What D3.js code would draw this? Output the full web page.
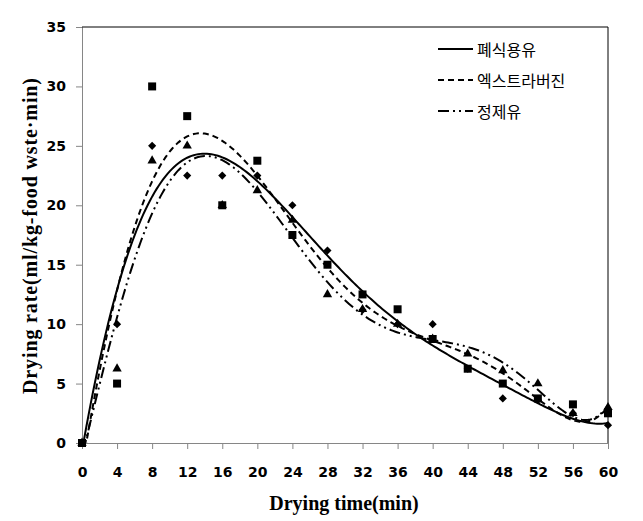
<!DOCTYPE html>
<html>
<head>
<meta charset="utf-8">
<script src="https://cdn.jsdelivr.net/npm/d3@7"></script>
<style>
  body { margin: 0; background: #fff; }
  .tick text { font-family: "DejaVu Sans", sans-serif; font-weight: bold; font-size: 14px; fill: #000; }
  .axis-title { font-family: "Liberation Serif", "Times New Roman", serif; font-weight: bold; font-size: 20px; fill: #000; }
  .legend text { font-family: "Noto Sans CJK KR", sans-serif; font-size: 16px; fill: #000; }
</style>
</head>
<body>
<svg id="chart" width="643" height="521"></svg>
<script>
"use strict";

// drying time (min)
var times = [0, 4, 8, 12, 16, 20, 24, 28, 32, 36, 40, 44, 48, 52, 56, 60];
var xTicks = [0, 4, 8, 12, 16, 20, 24, 28, 32, 36, 40, 44, 48, 52, 56, 60];
var yTicks = [0, 5, 10, 15, 20, 25, 30, 35];

// drying rate, read off the markers (hidden ones estimated)
var wasteOil  = [0, 10, 25, 22.5, 22.5, 22.5, 20, 16.2, 11.2, 10, 10, 6.25, 3.75, 3.6, 2.5, 1.5];      // diamonds
var extraVirgin = [0, 5, 30, 27.5, 20, 23.75, 17.5, 15, 12.5, 11.25, 8.75, 6.25, 5, 3.75, 3.25, 2.5]; // squares
var refinedOil = [0, 6.25, 23.75, 25, 20, 21.25, 18.75, 12.5, 11.25, 10, 8.75, 7.5, 6.1, 5, 2.5, 3];   // triangles

var seriesNames = ["폐식용유", "엑스트라버진", "정제유"];

var series = [
  { name: seriesNames[0], values: wasteOil,    marker: d3.symbolDiamond2, size: 42, dash: null, z: 1 },
  { name: seriesNames[1], values: extraVirgin, marker: d3.symbolSquare,   size: 64, dash: "6,4", z: 2 },
  { name: seriesNames[2], values: refinedOil,  marker: d3.symbolTriangle, size: 38, dash: "11,4,2,4,2,4", z: 0 }
];

var margin = { left: 82, top: 27, right: 35, bottom: 78 };
var width = 643 - margin.left - margin.right,
    height = 521 - margin.top - margin.bottom;

var svg = d3.select("#chart");
var g = svg.append("g").attr("transform", "translate(" + margin.left + "," + margin.top + ")");

var x = d3.scaleLinear().domain([0, 60]).range([0, width]);
var y = d3.scaleLinear().domain([0, 35]).range([height, 0]);

// polynomial trendline (order 6), least squares like the spreadsheet did
function polyFit(xs, ys, order) {
  var n = order + 1, A = [], b = [];
  for (var i = 0; i < n; i++) {
    A.push(new Array(n).fill(0));
    b.push(0);
  }
  xs.forEach(function(xv, k) {
    var s = xv / 60;
    for (var i = 0; i < n; i++) {
      b[i] += ys[k] * Math.pow(s, i);
      for (var j = 0; j < n; j++) A[i][j] += Math.pow(s, i + j);
    }
  });
  // gaussian elimination
  for (var c = 0; c < n; c++) {
    var p = c;
    for (var r = c + 1; r < n; r++) if (Math.abs(A[r][c]) > Math.abs(A[p][c])) p = r;
    var t = A[c]; A[c] = A[p]; A[p] = t;
    t = b[c]; b[c] = b[p]; b[p] = t;
    for (var r2 = c + 1; r2 < n; r2++) {
      var f = A[r2][c] / A[c][c];
      for (var j2 = c; j2 < n; j2++) A[r2][j2] -= f * A[c][j2];
      b[r2] -= f * b[c];
    }
  }
  var coef = new Array(n).fill(0);
  for (var i2 = n - 1; i2 >= 0; i2--) {
    var sum = b[i2];
    for (var j3 = i2 + 1; j3 < n; j3++) sum -= A[i2][j3] * coef[j3];
    coef[i2] = sum / A[i2][i2];
  }
  return function(xv) {
    var s = xv / 60, v = 0;
    for (var i = n - 1; i >= 0; i--) v = v * s + coef[i];
    return v;
  };
}

// axes
g.append("g").attr("class", "x axis")
  .attr("transform", "translate(0," + height + ")")
  .call(d3.axisBottom(x).tickValues(xTicks).tickSize(6).tickPadding(18));
g.append("g").attr("class", "y axis")
  .call(d3.axisLeft(y).tickValues(yTicks).tickSize(6).tickPadding(10));
g.selectAll(".axis path, .axis line").attr("stroke", "#868686");

// frame top and right
g.append("line").attr("x1", 0).attr("x2", width).attr("y1", 0).attr("y2", 0).attr("stroke", "#000");
g.append("line").attr("x1", width).attr("x2", width).attr("y1", 0).attr("y2", height).attr("stroke", "#000");

g.append("clipPath").attr("id", "plotClip")
  .append("rect").attr("width", width).attr("height", height);

var line = d3.line().x(function(d) { return x(d[0]); }).y(function(d) { return y(d[1]); });
var samples = d3.range(0, 60.01, 0.25);

series.forEach(function(s) {
  var fit = polyFit(times, s.values, 6);
  g.append("path")
    .datum(samples.map(function(t) { return [t, fit(t)]; }))
    .attr("clip-path", "url(#plotClip)")
    .attr("fill", "none")
    .attr("stroke", "#000")
    .attr("stroke-width", 2)
    .attr("stroke-dasharray", s.dash)
    .attr("d", line);
});

// markers: triangles under diamonds under squares
series.slice().sort(function(a, b) { return a.z - b.z; }).forEach(function(s) {
  g.selectAll(null).data(s.values).enter().append("path")
    .attr("transform", function(d, i) { return "translate(" + x(times[i]) + "," + y(d) + ")"; })
    .attr("d", d3.symbol().type(s.marker).size(s.size))
    .attr("fill", "#000");
});

// axis titles
svg.append("text").attr("class", "axis-title")
  .attr("text-anchor", "middle")
  .attr("x", 344).attr("y", 510)
  .text("Drying time(min)");
svg.append("text").attr("class", "axis-title")
  .attr("text-anchor", "middle")
  .attr("textLength", 316).attr("lengthAdjust", "spacing")
  .attr("transform", "translate(37,236) rotate(-90)")
  .text("Drying rate(ml/kg-food wste·min)");

// legend
var legend = svg.append("g").attr("class", "legend");
series.forEach(function(s, i) {
  var ly = 49 + i * 31;
  legend.append("line")
    .attr("x1", 438).attr("x2", 473).attr("y1", ly).attr("y2", ly)
    .attr("stroke", "#000").attr("stroke-width", 2)
    .attr("stroke-dasharray", s.dash);
  legend.append("text").attr("x", 477).attr("y", ly + 7).text(s.name);
});
</script>
</body>
</html>
